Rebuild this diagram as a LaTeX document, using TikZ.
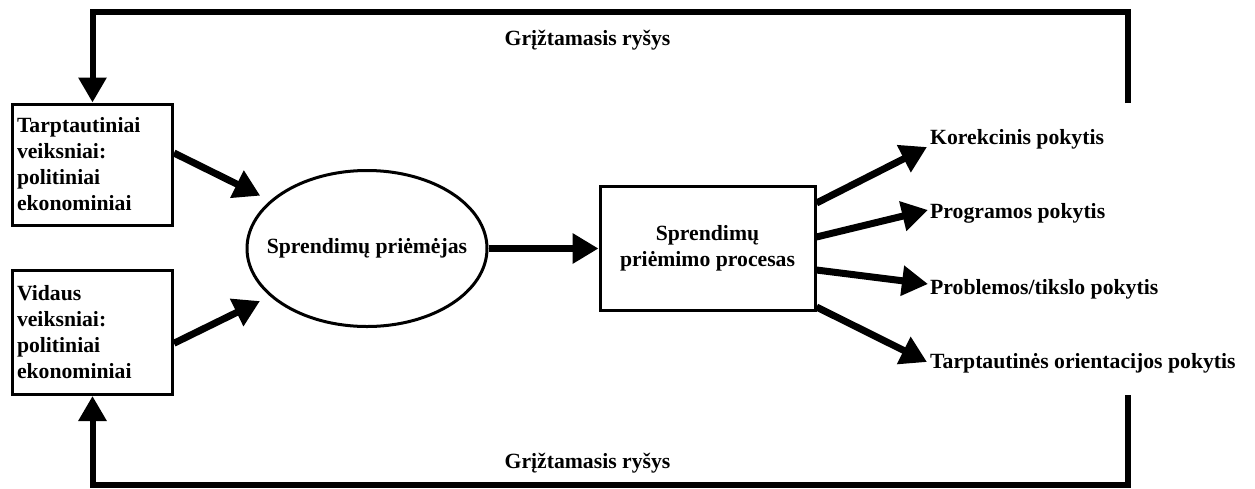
\documentclass[tikz,border=0pt]{standalone}
\usepackage{fontspec}
\setmainfont{Liberation Serif}
\usetikzlibrary{arrows.meta,shapes.geometric}
\begin{document}
\begin{tikzpicture}[x=1pt,y=-1pt,
  every node/.style={font=\fontsize{21.7}{26}\selectfont\bfseries},
  boxnode/.style={draw,line width=3pt,rectangle,inner sep=0pt},
  sidebox/.style={boxnode,minimum width=160pt,text width=151pt,align=left,inner xsep=4.5pt},
  lab/.style={inner sep=0pt,anchor=base west},
  arr/.style={line width=7pt,-{Triangle[length=26pt,width=29pt]}},
  fb/.style={line width=6pt,line join=miter},
  fbarr/.style={fb,-{Triangle[length=25pt,width=27pt]}}]
\useasboundingbox (0,0) rectangle (1255,488);

\node[sidebox,minimum height=121pt] (b1) at (92.5,164.5)
  {Tarptautiniai\\veiksniai:\\politiniai\\ekonominiai};
\node[sidebox,minimum height=124.5pt] (b2) at (92.5,332.25)
  {Vidaus\\veiksniai:\\politiniai\\ekonominiai};
\node[draw,line width=3pt,ellipse,minimum width=240pt,minimum height=156pt,inner sep=0pt] (e) at (367,248.5) {};
\node[inner sep=0pt] (et) at (e.center) {Sprendimų priėmėjas};
\node[boxnode,minimum width=215pt,minimum height=124pt,align=center] (p) at (707.5,248.5)
  {Sprendimų\\priėmimo procesas};

\node[lab] (k1) at (930,144) {Korekcinis pokytis};
\node[lab] (k2) at (930,218) {Programos pokytis};
\node[lab] (k3) at (930,294) {Problemos/tikslo pokytis};
\node[lab] (k4) at (930,368) {Tarptautinės orientacijos pokytis};

\node[inner sep=0pt,anchor=base] (g1) at (587.5,45) {Grįžtamasis ryšys};
\node[inner sep=0pt,anchor=base] (g2) at (587.5,468) {Grįžtamasis ryšys};

\draw[arr,shorten >=11pt] ([yshift=11.5pt]b1.east) -- (e);
\draw[arr,shorten >=11pt] ([yshift=-11pt]b2.east) -- (e);
\draw[arr] (e.east) -- (p.west);

\draw[arr] ([yshift=45.5pt]p.east) -- ([xshift=-3pt,yshift=-3pt]k1.base west);
\draw[arr] ([yshift=11.5pt]p.east) -- ([xshift=-2pt,yshift=8pt]k2.base west);
\draw[arr] ([yshift=-21.5pt]p.east) -- ([xshift=-2pt,yshift=10pt]k3.base west);
\draw[arr] ([yshift=-58.5pt]p.east) -- ([xshift=-3pt,yshift=6pt]k4.base west);

\coordinate (tr) at (1127.5,103);
\coordinate (tl) at (b1.north |- 0,11.5);
\draw[fbarr] (tr) |- (tl) -- (b1.north);
\coordinate (brc) at (1127.5,395);
\coordinate (blc) at (b2.south |- 0,485);
\draw[fbarr] (brc) |- (blc) -- (b2.south);
\end{tikzpicture}
\end{document}
